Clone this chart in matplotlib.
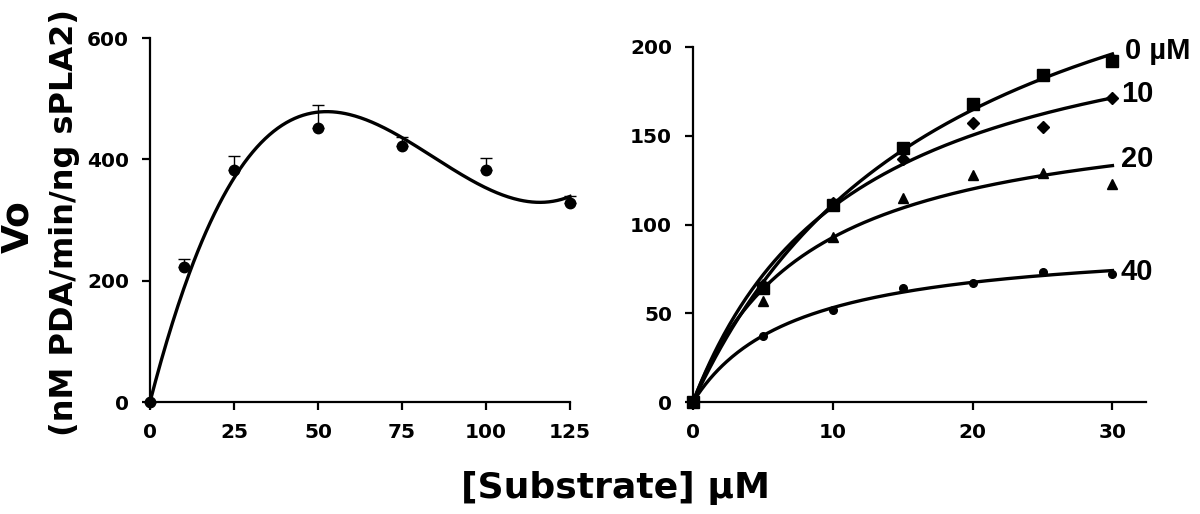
import numpy as np
import matplotlib
matplotlib.use("Agg")
import matplotlib.pyplot as plt

# left panel: substrate curve (no inhibitor)
sub_left = np.array([0, 10, 25, 50, 75, 100, 125])
vo_left = np.array([0, 222, 382, 452, 422, 383, 328])
err_left = np.array([0, 13, 23, 38, 15, 20, 12])

# right panel: inhibitor series
sub_right = np.array([0, 5, 10, 15, 20, 25, 30])
inhib_labels = ["0 µM", "10", "20", "40"]
vo_0 = np.array([0, 64, 111, 143, 168, 184, 192])
vo_10 = np.array([0, 66, 112, 137, 157, 155, 171])
vo_20 = np.array([0, 57, 93, 115, 128, 129, 123])
vo_40 = np.array([0, 37, 52, 64, 67, 73, 72])
series = [vo_0, vo_10, vo_20, vo_40]
markers = ["s", "D", "^", "o"]
msizes = [8, 6, 7.5, 5.5]


def cubic_fit(x, y):
    # least squares cubic through the origin
    A = np.column_stack([x, x ** 2, x ** 3])
    coef, *_ = np.linalg.lstsq(A, y, rcond=None)
    return lambda t: coef[0] * t + coef[1] * t ** 2 + coef[2] * t ** 3


def mm_fit(s, v):
    # Michaelis-Menten fit by grid search over Km
    best = None
    for km in np.arange(0.5, 80, 0.01):
        f = s / (km + s)
        vmax = np.sum(v * f) / np.sum(f * f)
        res = np.sum((v - vmax * f) ** 2)
        if best is None or res < best[0]:
            best = (res, vmax, km)
    return best[1], best[2]


plt.rcParams['font.family'] = ['DejaVu Sans']
plt.rcParams['font.weight'] = 'bold'

fig = plt.figure(figsize=(12, 5.14), dpi=100)
W, H = 1200, 514
ax1 = fig.add_axes([150 / W, (H - 402) / H, 420 / W, 364 / H])
ax2 = fig.add_axes([693 / W, (H - 402) / H, 453 / W, 355 / H])

# left
f = cubic_fit(sub_left.astype(float), vo_left.astype(float))
xs = np.linspace(0, 125, 300)
ax1.plot(xs, f(xs), color='black', lw=2.4, clip_on=False)
ax1.errorbar(sub_left, vo_left, yerr=[np.zeros_like(err_left), err_left],
             fmt='o', color='black', ms=7.5, ecolor='black', elinewidth=1,
             capsize=4, capthick=1, clip_on=False)
ax1.set_xlim(0, 125)
ax1.set_ylim(0, 600)
ax1.set_xticks([0, 25, 50, 75, 100, 125])
ax1.set_yticks([0, 200, 400, 600])

# right
xs2 = np.linspace(0, 30, 300)
offsets = [(9, 2), (6, 3), (6, 5), (6, -1)]
for vals, lab, mk, ms, off in zip(series, inhib_labels, markers, msizes, offsets):
    vmax, km = mm_fit(sub_right.astype(float), vals.astype(float))
    ax2.plot(xs2, vmax * xs2 / (km + xs2), color='black', lw=2.4, clip_on=False)
    ax2.plot(sub_right, vals, mk, color='black', ms=ms, clip_on=False)
    yend = vmax * 30 / (km + 30)
    ax2.annotate(lab, xy=(30, yend), xytext=off, textcoords='offset points',
                 ha='left', va='center', fontsize=21, fontweight='bold',
                 family='Liberation Sans')
ax2.set_xlim(0, 32.4)
ax2.set_ylim(0, 200)
ax2.set_xticks([0, 10, 20, 30])
ax2.set_yticks([0, 50, 100, 150, 200])

for ax in (ax1, ax2):
    for s in ('top', 'right'):
        ax.spines[s].set_visible(False)
    for s in ('left', 'bottom'):
        ax.spines[s].set_linewidth(1.6)
    ax.tick_params(direction='out', length=6, width=1.6, labelsize=14.5, pad=9)
    for t in ax.get_xticklabels() + ax.get_yticklabels():
        t.set_fontweight('bold')

fig.text(18 / W, 1 - 227 / H, "Vo", rotation=90, ha='center', va='center',
         fontsize=27, fontweight='bold')
fig.text(65 / W, 1 - 223 / H, "(nM PDA/min/ng sPLA2)", rotation=90,
         ha='center', va='center', fontsize=23, fontweight='bold')
fig.text(0.513, 1 - 488 / H, "[Substrate] µM", ha='center', va='center',
         fontsize=26, fontweight='bold')

fig.savefig("out.png", dpi=100)
